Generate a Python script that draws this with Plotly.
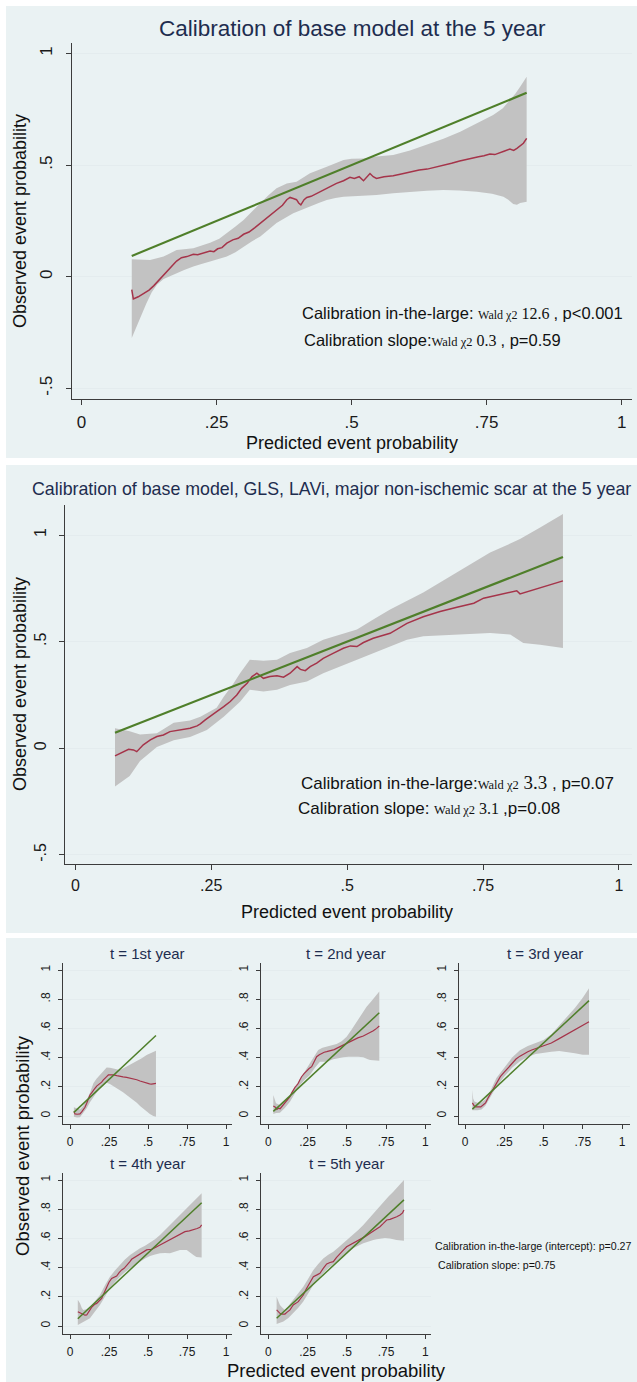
import plotly.graph_objects as go

W, H = 637, 1382

# ---------------- data ----------------
# Panel A: base model, 5-year calibration
a_ref = [0.093, 0.824]  # ideal calibration (y = x) over the range of predictions
a_observed = [
    (0.093, -0.058), (0.096, -0.10), (0.105, -0.09), (0.115, -0.075), (0.125, -0.06),
    (0.134, -0.04), (0.143, -0.015), (0.152, 0.01), (0.162, 0.035), (0.17, 0.055),
    (0.176, 0.07), (0.185, 0.085), (0.195, 0.09), (0.207, 0.1), (0.215, 0.098),
    (0.225, 0.105), (0.238, 0.115), (0.245, 0.112), (0.252, 0.125), (0.26, 0.13),
    (0.269, 0.15), (0.28, 0.165), (0.29, 0.172), (0.3, 0.19), (0.31, 0.2),
    (0.321, 0.22), (0.331, 0.24), (0.342, 0.262), (0.352, 0.282), (0.361, 0.3),
    (0.372, 0.32), (0.38, 0.345), (0.386, 0.355), (0.392, 0.35), (0.398, 0.345),
    (0.402, 0.33), (0.406, 0.322), (0.412, 0.345), (0.417, 0.355), (0.425, 0.36),
    (0.437, 0.375), (0.448, 0.39), (0.46, 0.405), (0.472, 0.418), (0.485, 0.43),
    (0.497, 0.445), (0.505, 0.44), (0.514, 0.448), (0.522, 0.43), (0.528, 0.445),
    (0.534, 0.462), (0.54, 0.448), (0.546, 0.44), (0.56, 0.448), (0.577, 0.452),
    (0.592, 0.46), (0.608, 0.468), (0.625, 0.478), (0.64, 0.482), (0.655, 0.49),
    (0.67, 0.5), (0.685, 0.508), (0.7, 0.518), (0.719, 0.53), (0.735, 0.537),
    (0.745, 0.542), (0.756, 0.55), (0.765, 0.547), (0.772, 0.552), (0.782, 0.562),
    (0.793, 0.572), (0.8, 0.566), (0.806, 0.575), (0.812, 0.585), (0.818, 0.598),
    (0.824, 0.62),
]
a_ci_upper = [
    (0.093, 0.078), (0.11, 0.076), (0.127, 0.075), (0.152, 0.09), (0.176, 0.12),
    (0.207, 0.127), (0.225, 0.14), (0.238, 0.152), (0.255, 0.17), (0.269, 0.194),
    (0.285, 0.225), (0.3, 0.254), (0.315, 0.29), (0.331, 0.329), (0.346, 0.365),
    (0.361, 0.396), (0.38, 0.418), (0.398, 0.425), (0.41, 0.445), (0.423, 0.463),
    (0.454, 0.493), (0.485, 0.523), (0.5, 0.528), (0.522, 0.53), (0.546, 0.538),
    (0.577, 0.545), (0.608, 0.565), (0.639, 0.59), (0.67, 0.618), (0.701, 0.649),
    (0.73, 0.685), (0.762, 0.724), (0.78, 0.755), (0.793, 0.791), (0.803, 0.82),
    (0.812, 0.851), (0.818, 0.872), (0.824, 0.896),
]
a_ci_lower = [
    (0.093, -0.275), (0.1, -0.24), (0.11, -0.18), (0.12, -0.12), (0.13, -0.07),
    (0.14, -0.035), (0.152, -0.01), (0.165, 0.005), (0.176, 0.016), (0.19, 0.03),
    (0.207, 0.046), (0.222, 0.057), (0.238, 0.068), (0.254, 0.078), (0.269, 0.09),
    (0.285, 0.11), (0.3, 0.135), (0.315, 0.158), (0.331, 0.18), (0.346, 0.21),
    (0.361, 0.24), (0.376, 0.262), (0.392, 0.284), (0.408, 0.3), (0.423, 0.314),
    (0.439, 0.33), (0.454, 0.344), (0.47, 0.352), (0.485, 0.358), (0.515, 0.362),
    (0.546, 0.366), (0.577, 0.374), (0.608, 0.381), (0.639, 0.385), (0.67, 0.388),
    (0.7, 0.386), (0.732, 0.381), (0.76, 0.372), (0.781, 0.358), (0.79, 0.345),
    (0.799, 0.326), (0.806, 0.322), (0.812, 0.33), (0.824, 0.336),
]

# Panel B: base model + GLS, LAVi, major non-ischemic scar, 5-year calibration
b_ref = [0.073, 0.897]
b_observed = [
    (0.073, -0.036), (0.089, -0.016), (0.098, -0.005), (0.107, -0.008), (0.113, -0.016),
    (0.125, 0.016), (0.138, 0.039), (0.15, 0.055), (0.162, 0.062), (0.174, 0.078),
    (0.187, 0.083), (0.199, 0.089), (0.211, 0.094), (0.224, 0.105), (0.23, 0.114),
    (0.239, 0.133), (0.248, 0.148), (0.26, 0.172), (0.273, 0.195), (0.285, 0.219),
    (0.297, 0.25), (0.306, 0.281), (0.316, 0.305), (0.325, 0.336), (0.334, 0.352),
    (0.34, 0.339), (0.346, 0.328), (0.358, 0.336), (0.371, 0.34), (0.383, 0.333),
    (0.395, 0.352), (0.408, 0.383), (0.414, 0.37), (0.423, 0.364), (0.432, 0.383),
    (0.444, 0.399), (0.456, 0.422), (0.475, 0.446), (0.493, 0.469), (0.506, 0.48),
    (0.518, 0.477), (0.53, 0.496), (0.548, 0.516), (0.579, 0.539), (0.61, 0.586),
    (0.64, 0.617), (0.671, 0.641), (0.702, 0.661), (0.733, 0.68), (0.751, 0.704),
    (0.794, 0.727), (0.812, 0.739), (0.818, 0.724), (0.855, 0.751), (0.897, 0.785),
]
b_ci_upper = [
    (0.073, 0.094), (0.1, 0.08), (0.119, 0.065), (0.15, 0.07), (0.181, 0.12),
    (0.211, 0.13), (0.23, 0.148), (0.26, 0.19), (0.273, 0.242), (0.29, 0.3),
    (0.303, 0.352), (0.321, 0.415), (0.346, 0.41), (0.371, 0.415), (0.395, 0.447),
    (0.426, 0.47), (0.456, 0.509), (0.487, 0.533), (0.518, 0.557), (0.548, 0.604),
    (0.579, 0.651), (0.64, 0.73), (0.702, 0.823), (0.763, 0.918), (0.8, 0.96),
    (0.818, 0.981), (0.855, 1.036), (0.897, 1.099),
]
b_ci_lower = [
    (0.073, -0.18), (0.1, -0.13), (0.119, -0.06), (0.15, 0.006), (0.181, 0.038),
    (0.211, 0.053), (0.242, 0.085), (0.273, 0.148), (0.303, 0.218), (0.321, 0.274),
    (0.346, 0.266), (0.371, 0.274), (0.395, 0.297), (0.426, 0.313), (0.456, 0.352),
    (0.487, 0.384), (0.518, 0.415), (0.548, 0.447), (0.579, 0.478), (0.61, 0.509),
    (0.64, 0.525), (0.702, 0.533), (0.763, 0.541), (0.8, 0.533), (0.824, 0.494),
    (0.855, 0.486), (0.897, 0.47),
]

# Panel C: yearly calibration, t = 1..5
yr_titles = ["t = 1st year", "t = 2nd year", "t = 3rd year", "t = 4th year", "t = 5th year"]
yr1_ref = [0.025, 0.551]
yr1_observed = [
    (0.025, 0.03), (0.032, 0.014), (0.045, 0.012), (0.064, 0.014), (0.075, 0.028),
    (0.085, 0.041), (0.096, 0.06), (0.107, 0.087), (0.118, 0.115), (0.128, 0.144),
    (0.14, 0.16), (0.15, 0.178), (0.16, 0.19), (0.171, 0.205), (0.182, 0.215),
    (0.192, 0.219), (0.203, 0.232), (0.214, 0.247), (0.225, 0.262), (0.235, 0.27),
    (0.246, 0.281), (0.26, 0.283), (0.278, 0.281), (0.3, 0.276), (0.32, 0.27),
    (0.34, 0.268), (0.363, 0.265), (0.385, 0.26), (0.406, 0.253), (0.428, 0.248),
    (0.449, 0.24), (0.47, 0.232), (0.491, 0.224), (0.51, 0.22), (0.523, 0.219),
    (0.54, 0.221), (0.551, 0.224),
]
yr1_ci_upper = [
    (0.025, 0.06), (0.04, 0.055), (0.064, 0.045), (0.085, 0.07), (0.107, 0.11),
    (0.128, 0.16), (0.15, 0.224), (0.17, 0.255), (0.192, 0.281), (0.213, 0.31),
    (0.235, 0.333), (0.256, 0.33), (0.278, 0.326), (0.3, 0.322), (0.32, 0.315),
    (0.34, 0.325), (0.363, 0.338), (0.395, 0.355), (0.427, 0.372), (0.46, 0.395),
    (0.491, 0.418), (0.52, 0.432), (0.551, 0.447),
]
yr1_ci_lower = [
    (0.025, -0.005), (0.045, -0.01), (0.064, -0.009), (0.085, 0.02), (0.107, 0.053),
    (0.128, 0.095), (0.15, 0.132), (0.17, 0.16), (0.192, 0.189), (0.213, 0.21),
    (0.235, 0.228), (0.256, 0.22), (0.278, 0.205), (0.3, 0.19), (0.32, 0.178),
    (0.34, 0.163), (0.363, 0.144), (0.385, 0.128), (0.406, 0.11), (0.428, 0.09),
    (0.449, 0.068), (0.47, 0.05), (0.491, 0.03), (0.512, 0.013), (0.534, 0.0),
    (0.551, -0.005),
]
yr2_ref = [0.032, 0.707]
yr2_observed = [
    (0.032, 0.068), (0.045, 0.06), (0.055, 0.045), (0.064, 0.053), (0.075, 0.05),
    (0.085, 0.064), (0.096, 0.075), (0.106, 0.087), (0.12, 0.11), (0.138, 0.132),
    (0.15, 0.16), (0.16, 0.18), (0.17, 0.196), (0.181, 0.21), (0.191, 0.224),
    (0.2, 0.245), (0.212, 0.269), (0.228, 0.29), (0.244, 0.311), (0.26, 0.325),
    (0.276, 0.338), (0.29, 0.37), (0.308, 0.406), (0.325, 0.42), (0.34, 0.429),
    (0.356, 0.437), (0.372, 0.441), (0.388, 0.444), (0.403, 0.447), (0.42, 0.455),
    (0.435, 0.463), (0.456, 0.475), (0.478, 0.486), (0.51, 0.503), (0.541, 0.521),
    (0.57, 0.535), (0.605, 0.548), (0.64, 0.566), (0.669, 0.584), (0.69, 0.6),
    (0.707, 0.616),
]
yr2_ci_upper = [
    (0.032, 0.144), (0.04, 0.11), (0.049, 0.087), (0.074, 0.075), (0.105, 0.1),
    (0.138, 0.144), (0.17, 0.2), (0.202, 0.258), (0.233, 0.31), (0.265, 0.361),
    (0.29, 0.41), (0.318, 0.452), (0.345, 0.468), (0.372, 0.475), (0.4, 0.482),
    (0.435, 0.493), (0.467, 0.512), (0.499, 0.543), (0.53, 0.59), (0.563, 0.646),
    (0.595, 0.7), (0.626, 0.749), (0.655, 0.785), (0.679, 0.817), (0.707, 0.852),
]
yr2_ci_lower = [
    (0.032, 0.014), (0.05, 0.02), (0.074, 0.023), (0.105, 0.055), (0.138, 0.098),
    (0.17, 0.155), (0.202, 0.212), (0.233, 0.25), (0.265, 0.281), (0.297, 0.33),
    (0.329, 0.372), (0.35, 0.372), (0.372, 0.372), (0.414, 0.388), (0.446, 0.396),
    (0.478, 0.402), (0.51, 0.405), (0.541, 0.406), (0.573, 0.405), (0.605, 0.402),
    (0.63, 0.39), (0.648, 0.384), (0.679, 0.379), (0.707, 0.379),
]
yr3_ref = [0.047, 0.79]
yr3_observed = [
    (0.047, 0.09), (0.058, 0.07), (0.07, 0.062), (0.085, 0.06), (0.1, 0.062),
    (0.115, 0.075), (0.131, 0.09), (0.145, 0.12), (0.16, 0.15), (0.18, 0.19),
    (0.2, 0.23), (0.225, 0.27), (0.25, 0.3), (0.275, 0.33), (0.3, 0.36),
    (0.325, 0.39), (0.35, 0.41), (0.375, 0.428), (0.4, 0.44), (0.425, 0.452),
    (0.45, 0.462), (0.475, 0.472), (0.5, 0.48), (0.55, 0.5), (0.6, 0.53),
    (0.65, 0.56), (0.7, 0.59), (0.75, 0.62), (0.79, 0.645),
]
yr3_ci_upper = [
    (0.047, 0.18), (0.052, 0.12), (0.06, 0.1), (0.08, 0.09), (0.105, 0.095),
    (0.13, 0.115), (0.165, 0.18), (0.2, 0.26), (0.25, 0.33), (0.3, 0.4),
    (0.35, 0.45), (0.4, 0.48), (0.45, 0.5), (0.5, 0.52), (0.55, 0.56),
    (0.6, 0.62), (0.65, 0.68), (0.7, 0.74), (0.75, 0.81), (0.79, 0.875),
]
yr3_ci_lower = [
    (0.047, 0.04), (0.08, 0.04), (0.105, 0.045), (0.13, 0.07), (0.165, 0.13),
    (0.2, 0.2), (0.25, 0.27), (0.3, 0.33), (0.35, 0.375), (0.4, 0.405),
    (0.45, 0.425), (0.5, 0.435), (0.55, 0.44), (0.6, 0.445), (0.65, 0.44),
    (0.7, 0.43), (0.75, 0.42), (0.79, 0.42),
]
yr4_ref = [0.05, 0.844]
yr4_observed = [
    (0.05, 0.098), (0.064, 0.091), (0.075, 0.08), (0.085, 0.075), (0.096, 0.074),
    (0.107, 0.075), (0.118, 0.09), (0.128, 0.11), (0.14, 0.13), (0.15, 0.144),
    (0.16, 0.15), (0.171, 0.155), (0.185, 0.17), (0.203, 0.189), (0.22, 0.23),
    (0.235, 0.269), (0.25, 0.3), (0.267, 0.326), (0.283, 0.335), (0.299, 0.342),
    (0.315, 0.365), (0.331, 0.384), (0.347, 0.395), (0.363, 0.411), (0.38, 0.435),
    (0.395, 0.457), (0.411, 0.468), (0.427, 0.479), (0.443, 0.488), (0.459, 0.498),
    (0.475, 0.51), (0.491, 0.521), (0.507, 0.524), (0.523, 0.525), (0.55, 0.54),
    (0.577, 0.555), (0.61, 0.572), (0.641, 0.589), (0.673, 0.606), (0.705, 0.623),
    (0.72, 0.635), (0.737, 0.646), (0.765, 0.652), (0.791, 0.658), (0.815, 0.668),
    (0.833, 0.676), (0.844, 0.692),
]
yr4_ci_upper = [
    (0.05, 0.18), (0.064, 0.155), (0.075, 0.125), (0.085, 0.11), (0.105, 0.115),
    (0.128, 0.132), (0.16, 0.17), (0.192, 0.212), (0.225, 0.28), (0.256, 0.338),
    (0.288, 0.38), (0.32, 0.418), (0.352, 0.455), (0.385, 0.486), (0.417, 0.51),
    (0.449, 0.532), (0.481, 0.55), (0.513, 0.571), (0.545, 0.595), (0.577, 0.623),
    (0.609, 0.657), (0.641, 0.692), (0.673, 0.726), (0.705, 0.76), (0.737, 0.795),
    (0.769, 0.829), (0.8, 0.86), (0.823, 0.886), (0.844, 0.909),
]
yr4_ci_lower = [
    (0.05, 0.007), (0.07, 0.02), (0.085, 0.03), (0.105, 0.04), (0.128, 0.053),
    (0.16, 0.1), (0.192, 0.144), (0.224, 0.2), (0.256, 0.258), (0.288, 0.3),
    (0.32, 0.338), (0.352, 0.368), (0.385, 0.395), (0.417, 0.42), (0.449, 0.441),
    (0.481, 0.462), (0.513, 0.479), (0.545, 0.49), (0.577, 0.498), (0.609, 0.5),
    (0.641, 0.498), (0.673, 0.508), (0.705, 0.521), (0.748, 0.521), (0.77, 0.505),
    (0.791, 0.486), (0.81, 0.472), (0.823, 0.47), (0.844, 0.47),
]
yr5_ref = [0.053, 0.864]
yr5_observed = [
    (0.053, 0.11), (0.064, 0.095), (0.074, 0.087), (0.09, 0.082), (0.106, 0.082),
    (0.12, 0.095), (0.138, 0.11), (0.15, 0.13), (0.159, 0.144), (0.175, 0.155),
    (0.191, 0.167), (0.207, 0.19), (0.223, 0.212), (0.24, 0.25), (0.255, 0.281),
    (0.27, 0.31), (0.287, 0.338), (0.31, 0.35), (0.329, 0.361), (0.35, 0.395),
    (0.372, 0.425), (0.393, 0.435), (0.414, 0.441), (0.435, 0.47), (0.456, 0.498),
    (0.478, 0.52), (0.499, 0.543), (0.52, 0.555), (0.541, 0.566), (0.563, 0.578),
    (0.584, 0.589), (0.616, 0.612), (0.648, 0.635), (0.68, 0.657), (0.711, 0.68),
    (0.733, 0.703), (0.754, 0.726), (0.775, 0.73), (0.796, 0.737), (0.818, 0.748),
    (0.839, 0.76), (0.855, 0.775), (0.864, 0.795),
]
yr5_ci_upper = [
    (0.053, 0.2), (0.064, 0.165), (0.074, 0.144), (0.09, 0.125), (0.106, 0.11),
    (0.13, 0.14), (0.159, 0.178), (0.19, 0.222), (0.223, 0.269), (0.255, 0.325),
    (0.287, 0.384), (0.318, 0.425), (0.35, 0.463), (0.382, 0.488), (0.414, 0.509),
    (0.446, 0.537), (0.478, 0.566), (0.51, 0.595), (0.541, 0.623), (0.573, 0.657),
    (0.605, 0.692), (0.637, 0.732), (0.669, 0.772), (0.7, 0.812), (0.732, 0.852),
    (0.764, 0.886), (0.796, 0.92), (0.818, 0.948), (0.839, 0.973), (0.864, 1.0),
]
yr5_ci_lower = [
    (0.053, 0.014), (0.075, 0.022), (0.096, 0.03), (0.128, 0.055), (0.159, 0.087),
    (0.191, 0.125), (0.223, 0.167), (0.255, 0.225), (0.287, 0.281), (0.318, 0.325),
    (0.35, 0.361), (0.382, 0.395), (0.414, 0.425), (0.446, 0.452), (0.478, 0.479),
    (0.51, 0.505), (0.541, 0.532), (0.573, 0.55), (0.605, 0.566), (0.637, 0.578),
    (0.669, 0.589), (0.69, 0.595), (0.711, 0.6), (0.743, 0.602), (0.775, 0.6),
    (0.796, 0.595), (0.817, 0.589), (0.84, 0.585), (0.864, 0.584),
]

x_tickvals = [0, 0.25, 0.5, 0.75, 1]
x_ticktext = ["0", ".25", ".5", ".75", "1"]
y_tickvals_main = [-0.5, 0, 0.5, 1]
y_ticktext_main = ["-.5", "0", ".5", "1"]
y_tickvals_small = [0, 0.2, 0.4, 0.6, 0.8, 1]
y_ticktext_small = ["0", ".2", ".4", ".6", ".8", "1"]

# ---------------- style ----------------
SANS = "Liberation Sans, Arial, sans-serif"
PANEL_BG = "#eaf2f3"
NAVY = "#1e2d4f"
AXIS = "#3c3c3c"
GRID = "#e4ecee"
BAND = "#c2c2c2"
GREEN = "#4f7f2a"
RED = "#a5344a"


def fx(p):
    return p / W


def fy(p):
    return 1 - p / H


fig = go.Figure()


def unzip(pairs):
    return [p[0] for p in pairs], [p[1] for p in pairs]


def add_panel(idx, ref, observed, upper, lower, lw_ref, lw_obs):
    xa = "x" if idx == 1 else f"x{idx}"
    ya = "y" if idx == 1 else f"y{idx}"
    ux, uy = unzip(upper)
    lx, ly = unzip(lower)
    fig.add_trace(go.Scatter(x=ux + lx[::-1], y=uy + ly[::-1], fill="toself",
                             fillcolor=BAND, line=dict(width=0), mode="lines",
                             xaxis=xa, yaxis=ya, hoverinfo="skip", showlegend=False))
    ox, oy = unzip(observed)
    fig.add_trace(go.Scatter(x=ox, y=oy, mode="lines", line=dict(color=RED, width=lw_obs),
                             xaxis=xa, yaxis=ya, showlegend=False))
    fig.add_trace(go.Scatter(x=ref, y=ref, mode="lines", line=dict(color=GREEN, width=lw_ref),
                             xaxis=xa, yaxis=ya, showlegend=False))


def set_axes(idx, xpix, ypix, xrange, yrange, ytv, ytt, fsize, tlen, standoff_y, standoff_x):
    xname = "xaxis" if idx == 1 else f"xaxis{idx}"
    yname = "yaxis" if idx == 1 else f"yaxis{idx}"
    anchor_y = "y" if idx == 1 else f"y{idx}"
    anchor_x = "x" if idx == 1 else f"x{idx}"
    common = dict(showline=True, linecolor=AXIS, linewidth=1.2, ticks="outside",
                  ticklen=tlen, tickwidth=1.1, tickcolor=AXIS, zeroline=False,
                  fixedrange=True, tickfont=dict(family=SANS, size=fsize, color="#1a1a1a"))
    fig.update_layout(**{
        xname: dict(domain=[fx(xpix[0]), fx(xpix[1])], range=xrange, anchor=anchor_y,
                    tickvals=x_tickvals, ticktext=x_ticktext, showgrid=False,
                    ticklabelstandoff=standoff_x, **common),
        yname: dict(domain=[fy(ypix[1]), fy(ypix[0])], range=yrange, anchor=anchor_x,
                    tickvals=ytv, ticktext=ytt, showgrid=True, gridcolor=GRID,
                    gridwidth=1.3, tickangle=-90, ticklabelstandoff=standoff_y, **common),
    })


# Panel A
add_panel(1, a_ref, a_observed, a_ci_upper, a_ci_lower, 2.2, 1.5)
set_axes(1, (72, 632), (43, 399), [-0.0176, 1.019], [-0.548, 1.047],
         y_tickvals_main, y_ticktext_main, 17, 5, 7, 2)

# Panel B
add_panel(2, b_ref, b_observed, b_ci_upper, b_ci_lower, 2.2, 1.5)
set_axes(2, (65, 632), (505, 864), [-0.019, 1.024], [-0.543, 1.141],
         y_tickvals_main, y_ticktext_main, 16, 5, 7, 2)

# Panel C: five small yearly plots
small_sets = [
    (yr1_ref, yr1_observed, yr1_ci_upper, yr1_ci_lower),
    (yr2_ref, yr2_observed, yr2_ci_upper, yr2_ci_lower),
    (yr3_ref, yr3_observed, yr3_ci_upper, yr3_ci_lower),
    (yr4_ref, yr4_observed, yr4_ci_upper, yr4_ci_lower),
    (yr5_ref, yr5_observed, yr5_ci_upper, yr5_ci_lower),
]
small_x = [(63, 232, 70, 226), (261, 431, 268.3, 425.3), (459, 630, 465, 622),
           (63, 232, 70, 226), (261, 431, 268.3, 425.3)]
small_y = [(962.7, 1124.3, 1116), (962.7, 1124.3, 1116), (962.7, 1124.3, 1116),
           (1172.7, 1334.3, 1326), (1172.7, 1334.3, 1326)]
for k, (ref, obs, up, lo) in enumerate(small_sets):
    idx = k + 3
    add_panel(idx, ref, obs, up, lo, 1.5, 1.2)
    x0, x1, t0, t1 = small_x[k]
    y0, y1, z = small_y[k]
    unit_x = t1 - t0
    unit_y = 146.0
    xr = [(x0 - t0) / unit_x, (x1 - t0) / unit_x]
    yr = [(z - y1) / unit_y, (z - y0) / unit_y]
    set_axes(idx, (x0, x1), (y0, y1), xr, yr, y_tickvals_small, y_ticktext_small,
             12, 4, 3, 2)

# ---------------- panel backgrounds ----------------
shapes = []
for top, bottom in [(6, 458), (465, 933), (938, 1382)]:
    shapes.append(dict(type="rect", xref="paper", yref="paper", x0=fx(6), x1=1,
                       y0=fy(bottom), y1=fy(top), fillcolor=PANEL_BG,
                       line=dict(width=0), layer="below"))

# ---------------- text ----------------
ann = []


def text(x, y, s, size, color="#111111", angle=0, xanchor="center"):
    ann.append(dict(x=fx(x), y=fy(y), xref="paper", yref="paper", text=s,
                    showarrow=False, textangle=angle, xanchor=xanchor, yanchor="middle",
                    font=dict(family=SANS, size=size, color=color)))


SERIF = "font-family:Liberation Serif"

text(352, 29, "Calibration of base model at the 5 year", 22.5, NAVY)
text(352, 443, "Predicted event probability", 18)
text(20, 221, "Observed event probability", 18, angle=-90)
text(300, 313, "Calibration in-the-large: "
     f'<span style="{SERIF};font-size:12px">Wald χ2</span>'
     f'<span style="{SERIF};font-size:16px"> 12.6 </span>, p&lt;0.001', 16.5, xanchor="left")
text(302, 340, "Calibration slope:"
     f'<span style="{SERIF};font-size:12.5px">Wald χ2</span>'
     f'<span style="{SERIF};font-size:16px"> 0.3 </span>, p=0.59', 16.5, xanchor="left")

text(331, 489, "Calibration of base model, GLS, LAVi, major non-ischemic scar at the 5 year",
     17.8, NAVY)
text(347, 912, "Predicted event probability", 18)
text(20, 684, "Observed event probability", 18, angle=-90)
text(299, 782, "Calibration in-the-large:"
     f'<span style="{SERIF};font-size:12.5px">Wald χ2</span>'
     f'<span style="{SERIF};font-size:19px"> 3.3 </span>, p=0.07', 17, xanchor="left")
text(296, 808, "Calibration slope: "
     f'<span style="{SERIF};font-size:12.5px">Wald χ2</span>'
     f'<span style="{SERIF};font-size:16px"> 3.1 </span>,p=0.08', 17, xanchor="left")

title_pos = [(147.5, 953), (346, 953), (544.5, 953), (147.5, 1163), (346, 1163)]
for (tx, ty), t in zip(title_pos, yr_titles):
    text(tx, ty, t, 15, NAVY)
text(336, 1370, "Predicted event probability", 18.5)
text(22, 1146, "Observed event probability", 18.5, angle=-90)
text(433, 1246, "Calibration in-the-large (intercept): p=0.27", 10.6, xanchor="left")
text(436, 1265, "Calibration slope: p=0.75", 10.6, xanchor="left")

fig.update_layout(width=W, height=H, autosize=False,
                  margin=dict(l=0, r=0, t=0, b=0),
                  paper_bgcolor="white", plot_bgcolor="white",
                  shapes=shapes, annotations=ann, showlegend=False,
                  font=dict(family=SANS))

fig.write_html("out.html", config={"displayModeBar": False})
